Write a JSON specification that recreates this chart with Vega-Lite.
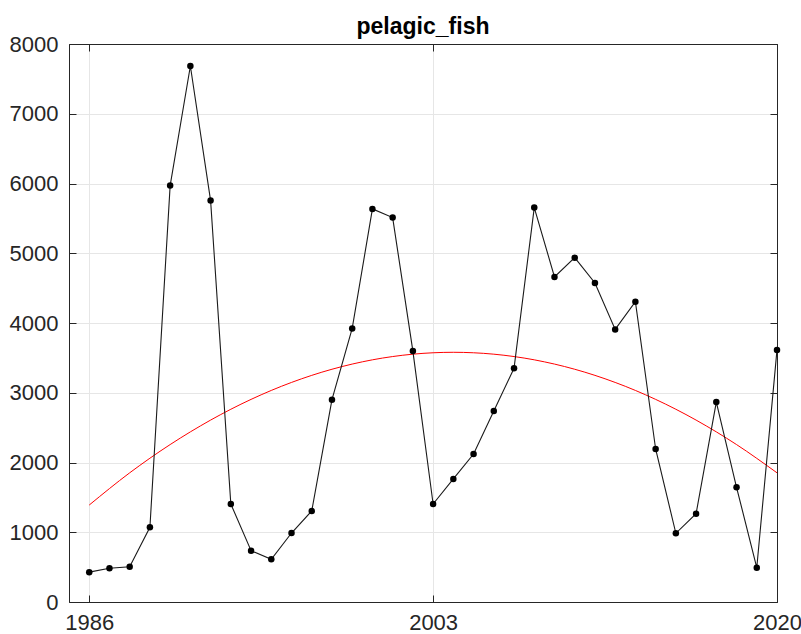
{
  "$schema": "https://vega.github.io/schema/vega-lite/v6.json",
  "width": 708,
  "height": 558,
  "autosize": "none",
  "padding": {"left": 69, "top": 44, "right": 24, "bottom": 32},
  "background": "white",
  "title": {"text": "pelagic_fish", "font": "Liberation Sans", "fontSize": 23, "fontWeight": "bold", "color": "#000000", "offset": -6, "anchor": "middle"},
  "config": {
    "view": {"stroke": "#262626", "strokeWidth": 1},
    "axis": {
      "labelFont": "Liberation Sans",
      "labelFontSize": 22,
      "labelColor": "#262626",
      "domainColor": "#262626",
      "tickColor": "#262626",
      "gridColor": "#e6e6e6",
      "gridWidth": 1,
      "tickSize": -7,
      "title": null
    }
  },
  "datasets": {
    "obs": [
      {"year": 1986, "value": 428}, {"year": 1987, "value": 483}, {"year": 1988, "value": 506},
      {"year": 1989, "value": 1071}, {"year": 1990, "value": 5970}, {"year": 1991, "value": 7685},
      {"year": 1992, "value": 5755}, {"year": 1993, "value": 1405}, {"year": 1994, "value": 736},
      {"year": 1995, "value": 612}, {"year": 1996, "value": 989}, {"year": 1997, "value": 1305},
      {"year": 1998, "value": 2901}, {"year": 1999, "value": 3922}, {"year": 2000, "value": 5636},
      {"year": 2001, "value": 5511}, {"year": 2002, "value": 3597}, {"year": 2003, "value": 1405},
      {"year": 2004, "value": 1764}, {"year": 2005, "value": 2122}, {"year": 2006, "value": 2739},
      {"year": 2007, "value": 3351}, {"year": 2008, "value": 5655}, {"year": 2009, "value": 4661},
      {"year": 2010, "value": 4937}, {"year": 2011, "value": 4574}, {"year": 2012, "value": 3908},
      {"year": 2013, "value": 4304}, {"year": 2014, "value": 2194}, {"year": 2015, "value": 985},
      {"year": 2016, "value": 1266}, {"year": 2017, "value": 2866}, {"year": 2018, "value": 1645},
      {"year": 2019, "value": 492}, {"year": 2020, "value": 3614}
    ],
    "fit": [
      {"year": 1986, "value": 1390}, {"year": 1988, "value": 1852}, {"year": 1990, "value": 2257},
      {"year": 1992, "value": 2608}, {"year": 1994, "value": 2905}, {"year": 1996, "value": 3148},
      {"year": 1998, "value": 3337}, {"year": 2000, "value": 3472}, {"year": 2002, "value": 3553},
      {"year": 2004, "value": 3580}, {"year": 2006, "value": 3553}, {"year": 2008, "value": 3472},
      {"year": 2010, "value": 3337}, {"year": 2012, "value": 3148}, {"year": 2014, "value": 2905},
      {"year": 2016, "value": 2608}, {"year": 2018, "value": 2257}, {"year": 2020, "value": 1852}
    ]
  },
  "resolve": {"axis": {"x": "independent", "y": "independent"}},
  "layer": [
    {
      "data": {"name": "fit"},
      "mark": {"type": "line", "color": "#ff0000", "strokeWidth": 1, "interpolate": "monotone", "clip": false},
      "encoding": {
        "x": {"field": "year", "type": "quantitative", "scale": {"domain": [1985, 2020], "nice": false, "zero": false},
              "axis": {"values": [1986, 2003, 2020], "format": "d", "grid": true, "labelPadding": 17, "labelFlush": false}},
        "y": {"field": "value", "type": "quantitative", "scale": {"domain": [0, 8000], "nice": false},
              "axis": {"values": [0, 1000, 2000, 3000, 4000, 5000, 6000, 7000, 8000], "format": "d", "grid": true, "labelPadding": 18}}
      }
    },
    {
      "data": {"name": "obs"},
      "mark": {"type": "line", "color": "#1a1a1a", "strokeWidth": 1.1, "clip": false},
      "encoding": {
        "x": {"field": "year", "type": "quantitative", "axis": null},
        "y": {"field": "value", "type": "quantitative", "axis": null}
      }
    },
    {
      "data": {"name": "obs"},
      "mark": {"type": "circle", "color": "#000000", "opacity": 1, "size": 42, "clip": false},
      "encoding": {
        "x": {"field": "year", "type": "quantitative", "axis": null},
        "y": {"field": "value", "type": "quantitative", "axis": null}
      }
    },
    {
      "data": {"name": "obs"},
      "mark": {"type": "circle", "opacity": 0},
      "encoding": {
        "x": {"field": "year", "type": "quantitative",
              "axis": {"orient": "top", "values": [1986, 2003, 2020], "labels": false, "grid": false}},
        "y": {"field": "value", "type": "quantitative",
              "axis": {"orient": "right", "values": [0, 1000, 2000, 3000, 4000, 5000, 6000, 7000, 8000], "labels": false, "grid": false}}
      }
    }
  ]
}
